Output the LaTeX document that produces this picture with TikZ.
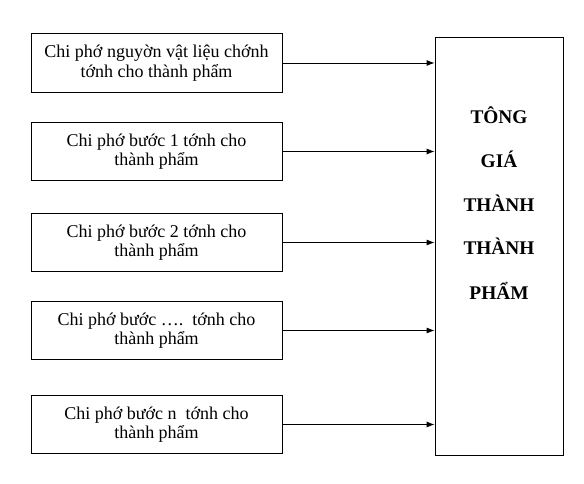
\documentclass[tikz,border=0pt]{standalone}
\usepackage{fontspec}
\setmainfont{Liberation Serif}
\usetikzlibrary{arrows.meta}
\begin{document}
\begin{tikzpicture}[x=0.75pt,y=-0.75pt,
  costbox/.style={draw,line width=0.6pt,minimum width=251*0.75pt,minimum height=58.5*0.75pt,
    align=center,font=\fontsize{13.5}{14.5}\selectfont,inner sep=0pt},
  bigbox/.style={draw,line width=0.6pt,minimum width=128*0.75pt,minimum height=418*0.75pt,inner sep=0pt},
  feed/.style={line width=0.6pt,-{Latex[length=6pt,width=4.5pt]}},
  bigtext/.style={font=\fontsize{14.5}{16}\selectfont\bfseries}]
\useasboundingbox (0,0) rectangle (584,484);
\node[costbox] (b1) at (156.5,63) {Chi phớ nguyờn vật liệu chớnh\\tớnh cho thành phẩm};
\node[costbox] (b2) at (156.5,151.5) {Chi phớ bước 1 tớnh cho\\thành phẩm};
\node[costbox] (b3) at (156.5,242.5) {Chi phớ bước 2 tớnh cho\\thành phẩm};
\node[costbox] (b4) at (156.5,330.5) {Chi phớ bước ….\ \ tớnh cho\\thành phẩm};
\node[costbox] (b5) at (156.5,424.5) {Chi phớ bước n\ \ tớnh cho\\thành phẩm};
\node[bigbox] (tot) at (499,246) {};
\node[bigtext] (t1) at (499,115) {TÔNG};
\node[bigtext] (t2) at (499,159) {GIÁ};
\node[bigtext] (t3) at (499,203) {THÀNH};
\node[bigtext] (t4) at (499,246) {THÀNH};
\node[bigtext] (t5) at (499,291) {PHẨM};
\draw[feed] (b1.east) -- (b1.east -| tot.west);
\draw[feed] (b2.east) -- (b2.east -| tot.west);
\draw[feed] (b3.east) -- (b3.east -| tot.west);
\draw[feed] (b4.east) -- (b4.east -| tot.west);
\draw[feed] (b5.east) -- (b5.east -| tot.west);
\end{tikzpicture}
\end{document}
